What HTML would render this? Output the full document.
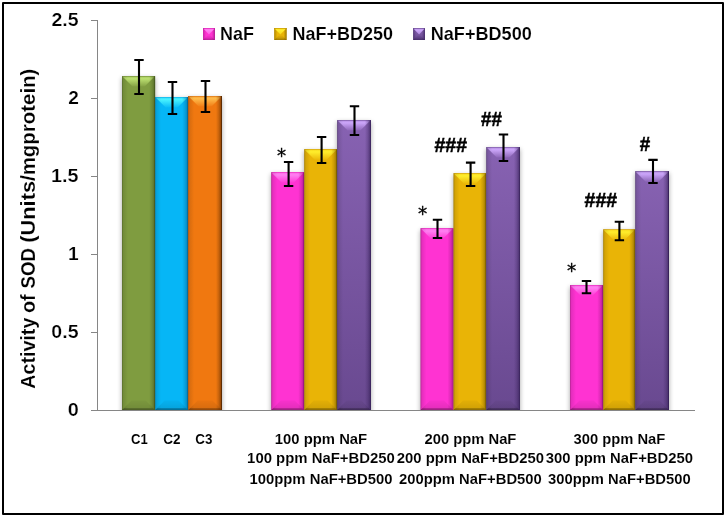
<!DOCTYPE html>
<html lang="en"><head><meta charset="utf-8"><title>Activity of SOD</title>
<style>html,body{margin:0;padding:0;background:#fff;}body{width:726px;height:517px;overflow:hidden;}svg{display:block;}text{font-family:"Liberation Sans",sans-serif;font-weight:bold;fill:#000;}</style></head><body>
<svg width="726" height="517" viewBox="0 0 726 517">
<defs>
<filter id="sh" x="-30%" y="-5%" width="160%" height="110%"><feGaussianBlur stdDeviation="2.4"/></filter>
<linearGradient id="tg" x1="0" y1="0" x2="0" y2="1"><stop offset="0" stop-color="#728E38"/><stop offset="0.1" stop-color="#ADCF64"/><stop offset="0.25" stop-color="#BCE070"/><stop offset="1" stop-color="#84A144"/></linearGradient>
<linearGradient id="lg" x1="0" y1="0" x2="1" y2="0"><stop offset="0" stop-color="#000" stop-opacity="0.30"/><stop offset="0.25" stop-color="#000" stop-opacity="0.10"/><stop offset="1" stop-color="#000" stop-opacity="0"/></linearGradient>
<linearGradient id="rg" x1="0" y1="0" x2="1" y2="0"><stop offset="0" stop-color="#4A5E22" stop-opacity="0"/><stop offset="0.5" stop-color="#4A5E22" stop-opacity="0.30"/><stop offset="0.82" stop-color="#4A5E22" stop-opacity="0.62"/><stop offset="0.9" stop-color="#4A5E22" stop-opacity="1"/><stop offset="1" stop-color="#4A5E22" stop-opacity="1"/></linearGradient>
<linearGradient id="bg" x1="0" y1="0" x2="0" y2="1"><stop offset="0" stop-color="#000" stop-opacity="0.03"/><stop offset="0.8" stop-color="#000" stop-opacity="0.10"/><stop offset="0.85" stop-color="#000" stop-opacity="0.34"/><stop offset="1" stop-color="#000" stop-opacity="0.40"/></linearGradient>
<linearGradient id="ltg" x1="0" y1="0" x2="0" y2="1"><stop offset="0" stop-color="#AACC62"/><stop offset="0.3" stop-color="#BCE070"/><stop offset="1" stop-color="#A4C55D"/></linearGradient>
<linearGradient id="llg" x1="0" y1="0" x2="1" y2="0"><stop offset="0" stop-color="#4A5E22" stop-opacity="0.55"/><stop offset="1" stop-color="#4A5E22" stop-opacity="0"/></linearGradient>
<linearGradient id="lrg" x1="0" y1="0" x2="1" y2="0"><stop offset="0" stop-color="#4A5E22" stop-opacity="0"/><stop offset="1" stop-color="#4A5E22" stop-opacity="0.75"/></linearGradient>
<linearGradient id="lbg" x1="0" y1="0" x2="0" y2="1"><stop offset="0" stop-color="#4A5E22" stop-opacity="0.05"/><stop offset="0.5" stop-color="#4A5E22" stop-opacity="0.25"/><stop offset="1" stop-color="#4A5E22" stop-opacity="0.7"/></linearGradient>
<linearGradient id="vg" x1="0" y1="0" x2="0" y2="1"><stop offset="0" stop-color="#7F9C40"/><stop offset="1" stop-color="#7F9C40"/></linearGradient>
<linearGradient id="tb" x1="0" y1="0" x2="0" y2="1"><stop offset="0" stop-color="#07A4E4"/><stop offset="0.1" stop-color="#38E3FD"/><stop offset="0.25" stop-color="#48F2FF"/><stop offset="1" stop-color="#0BBBF7"/></linearGradient>
<linearGradient id="lb" x1="0" y1="0" x2="1" y2="0"><stop offset="0" stop-color="#000" stop-opacity="0.30"/><stop offset="0.25" stop-color="#000" stop-opacity="0.10"/><stop offset="1" stop-color="#000" stop-opacity="0"/></linearGradient>
<linearGradient id="rb" x1="0" y1="0" x2="1" y2="0"><stop offset="0" stop-color="#066E9E" stop-opacity="0"/><stop offset="0.5" stop-color="#066E9E" stop-opacity="0.30"/><stop offset="0.82" stop-color="#066E9E" stop-opacity="0.62"/><stop offset="0.9" stop-color="#066E9E" stop-opacity="1"/><stop offset="1" stop-color="#066E9E" stop-opacity="1"/></linearGradient>
<linearGradient id="bb" x1="0" y1="0" x2="0" y2="1"><stop offset="0" stop-color="#000" stop-opacity="0.03"/><stop offset="0.8" stop-color="#000" stop-opacity="0.10"/><stop offset="0.85" stop-color="#000" stop-opacity="0.34"/><stop offset="1" stop-color="#000" stop-opacity="0.40"/></linearGradient>
<linearGradient id="ltb" x1="0" y1="0" x2="0" y2="1"><stop offset="0" stop-color="#34E0FC"/><stop offset="0.3" stop-color="#48F2FF"/><stop offset="1" stop-color="#2EDAFB"/></linearGradient>
<linearGradient id="llb" x1="0" y1="0" x2="1" y2="0"><stop offset="0" stop-color="#066E9E" stop-opacity="0.55"/><stop offset="1" stop-color="#066E9E" stop-opacity="0"/></linearGradient>
<linearGradient id="lrb" x1="0" y1="0" x2="1" y2="0"><stop offset="0" stop-color="#066E9E" stop-opacity="0"/><stop offset="1" stop-color="#066E9E" stop-opacity="0.75"/></linearGradient>
<linearGradient id="lbb" x1="0" y1="0" x2="0" y2="1"><stop offset="0" stop-color="#066E9E" stop-opacity="0.05"/><stop offset="0.5" stop-color="#066E9E" stop-opacity="0.25"/><stop offset="1" stop-color="#066E9E" stop-opacity="0.7"/></linearGradient>
<linearGradient id="vb" x1="0" y1="0" x2="0" y2="1"><stop offset="0" stop-color="#06B6F6"/><stop offset="1" stop-color="#06B6F6"/></linearGradient>
<linearGradient id="to" x1="0" y1="0" x2="0" y2="1"><stop offset="0" stop-color="#D4690C"/><stop offset="0.1" stop-color="#FBAB3D"/><stop offset="0.25" stop-color="#FFBC4C"/><stop offset="1" stop-color="#F17D15"/></linearGradient>
<linearGradient id="lo" x1="0" y1="0" x2="1" y2="0"><stop offset="0" stop-color="#000" stop-opacity="0.30"/><stop offset="0.25" stop-color="#000" stop-opacity="0.10"/><stop offset="1" stop-color="#000" stop-opacity="0"/></linearGradient>
<linearGradient id="ro" x1="0" y1="0" x2="1" y2="0"><stop offset="0" stop-color="#5E2C02" stop-opacity="0"/><stop offset="0.5" stop-color="#5E2C02" stop-opacity="0.30"/><stop offset="0.82" stop-color="#5E2C02" stop-opacity="0.62"/><stop offset="0.9" stop-color="#5E2C02" stop-opacity="1"/><stop offset="1" stop-color="#5E2C02" stop-opacity="1"/></linearGradient>
<linearGradient id="bo" x1="0" y1="0" x2="0" y2="1"><stop offset="0" stop-color="#000" stop-opacity="0.03"/><stop offset="0.8" stop-color="#000" stop-opacity="0.10"/><stop offset="0.85" stop-color="#000" stop-opacity="0.34"/><stop offset="1" stop-color="#000" stop-opacity="0.40"/></linearGradient>
<linearGradient id="lto" x1="0" y1="0" x2="0" y2="1"><stop offset="0" stop-color="#FAA83A"/><stop offset="0.3" stop-color="#FFBC4C"/><stop offset="1" stop-color="#F9A134"/></linearGradient>
<linearGradient id="llo" x1="0" y1="0" x2="1" y2="0"><stop offset="0" stop-color="#5E2C02" stop-opacity="0.55"/><stop offset="1" stop-color="#5E2C02" stop-opacity="0"/></linearGradient>
<linearGradient id="lro" x1="0" y1="0" x2="1" y2="0"><stop offset="0" stop-color="#5E2C02" stop-opacity="0"/><stop offset="1" stop-color="#5E2C02" stop-opacity="0.75"/></linearGradient>
<linearGradient id="lbo" x1="0" y1="0" x2="0" y2="1"><stop offset="0" stop-color="#5E2C02" stop-opacity="0.05"/><stop offset="0.5" stop-color="#5E2C02" stop-opacity="0.25"/><stop offset="1" stop-color="#5E2C02" stop-opacity="0.7"/></linearGradient>
<linearGradient id="vo" x1="0" y1="0" x2="0" y2="1"><stop offset="0" stop-color="#F07810"/><stop offset="1" stop-color="#F07810"/></linearGradient>
<linearGradient id="tm" x1="0" y1="0" x2="0" y2="1"><stop offset="0" stop-color="#E42ABC"/><stop offset="0.1" stop-color="#FF6DEA"/><stop offset="0.25" stop-color="#FF80F2"/><stop offset="1" stop-color="#FF39D5"/></linearGradient>
<linearGradient id="lm" x1="0" y1="0" x2="1" y2="0"><stop offset="0" stop-color="#000" stop-opacity="0.30"/><stop offset="0.25" stop-color="#000" stop-opacity="0.10"/><stop offset="1" stop-color="#000" stop-opacity="0"/></linearGradient>
<linearGradient id="rm" x1="0" y1="0" x2="1" y2="0"><stop offset="0" stop-color="#96167C" stop-opacity="0"/><stop offset="0.5" stop-color="#96167C" stop-opacity="0.30"/><stop offset="0.82" stop-color="#96167C" stop-opacity="0.62"/><stop offset="0.9" stop-color="#96167C" stop-opacity="1"/><stop offset="1" stop-color="#96167C" stop-opacity="1"/></linearGradient>
<linearGradient id="bm" x1="0" y1="0" x2="0" y2="1"><stop offset="0" stop-color="#000" stop-opacity="0.03"/><stop offset="0.8" stop-color="#000" stop-opacity="0.10"/><stop offset="0.85" stop-color="#000" stop-opacity="0.34"/><stop offset="1" stop-color="#000" stop-opacity="0.40"/></linearGradient>
<linearGradient id="ltm" x1="0" y1="0" x2="0" y2="1"><stop offset="0" stop-color="#FF69E8"/><stop offset="0.3" stop-color="#FF80F2"/><stop offset="1" stop-color="#FF61E5"/></linearGradient>
<linearGradient id="llm" x1="0" y1="0" x2="1" y2="0"><stop offset="0" stop-color="#96167C" stop-opacity="0.55"/><stop offset="1" stop-color="#96167C" stop-opacity="0"/></linearGradient>
<linearGradient id="lrm" x1="0" y1="0" x2="1" y2="0"><stop offset="0" stop-color="#96167C" stop-opacity="0"/><stop offset="1" stop-color="#96167C" stop-opacity="0.75"/></linearGradient>
<linearGradient id="lbm" x1="0" y1="0" x2="0" y2="1"><stop offset="0" stop-color="#96167C" stop-opacity="0.05"/><stop offset="0.5" stop-color="#96167C" stop-opacity="0.25"/><stop offset="1" stop-color="#96167C" stop-opacity="0.7"/></linearGradient>
<linearGradient id="vm" x1="0" y1="0" x2="0" y2="1"><stop offset="0" stop-color="#FF33D2"/><stop offset="1" stop-color="#FF33D2"/></linearGradient>
<linearGradient id="ty" x1="0" y1="0" x2="0" y2="1"><stop offset="0" stop-color="#D0A004"/><stop offset="0.1" stop-color="#FAE022"/><stop offset="0.25" stop-color="#FFEE2C"/><stop offset="1" stop-color="#EBB909"/></linearGradient>
<linearGradient id="ly" x1="0" y1="0" x2="1" y2="0"><stop offset="0" stop-color="#000" stop-opacity="0.30"/><stop offset="0.25" stop-color="#000" stop-opacity="0.10"/><stop offset="1" stop-color="#000" stop-opacity="0"/></linearGradient>
<linearGradient id="ry" x1="0" y1="0" x2="1" y2="0"><stop offset="0" stop-color="#7E6000" stop-opacity="0"/><stop offset="0.5" stop-color="#7E6000" stop-opacity="0.30"/><stop offset="0.82" stop-color="#7E6000" stop-opacity="0.62"/><stop offset="0.9" stop-color="#7E6000" stop-opacity="1"/><stop offset="1" stop-color="#7E6000" stop-opacity="1"/></linearGradient>
<linearGradient id="by" x1="0" y1="0" x2="0" y2="1"><stop offset="0" stop-color="#000" stop-opacity="0.03"/><stop offset="0.8" stop-color="#000" stop-opacity="0.10"/><stop offset="0.85" stop-color="#000" stop-opacity="0.34"/><stop offset="1" stop-color="#000" stop-opacity="0.40"/></linearGradient>
<linearGradient id="lty" x1="0" y1="0" x2="0" y2="1"><stop offset="0" stop-color="#F8DD21"/><stop offset="0.3" stop-color="#FFEE2C"/><stop offset="1" stop-color="#F6D71D"/></linearGradient>
<linearGradient id="lly" x1="0" y1="0" x2="1" y2="0"><stop offset="0" stop-color="#7E6000" stop-opacity="0.55"/><stop offset="1" stop-color="#7E6000" stop-opacity="0"/></linearGradient>
<linearGradient id="lry" x1="0" y1="0" x2="1" y2="0"><stop offset="0" stop-color="#7E6000" stop-opacity="0"/><stop offset="1" stop-color="#7E6000" stop-opacity="0.75"/></linearGradient>
<linearGradient id="lby" x1="0" y1="0" x2="0" y2="1"><stop offset="0" stop-color="#7E6000" stop-opacity="0.05"/><stop offset="0.5" stop-color="#7E6000" stop-opacity="0.25"/><stop offset="1" stop-color="#7E6000" stop-opacity="0.7"/></linearGradient>
<linearGradient id="vy" x1="0" y1="0" x2="0" y2="1"><stop offset="0" stop-color="#E9B406"/><stop offset="1" stop-color="#E9B406"/></linearGradient>
<linearGradient id="tp" x1="0" y1="0" x2="0" y2="1"><stop offset="0" stop-color="#76549F"/><stop offset="0.1" stop-color="#BB95E8"/><stop offset="0.25" stop-color="#CCA6FA"/><stop offset="1" stop-color="#8D67B8"/></linearGradient>
<linearGradient id="lp" x1="0" y1="0" x2="1" y2="0"><stop offset="0" stop-color="#000" stop-opacity="0.30"/><stop offset="0.25" stop-color="#000" stop-opacity="0.10"/><stop offset="1" stop-color="#000" stop-opacity="0"/></linearGradient>
<linearGradient id="rp" x1="0" y1="0" x2="1" y2="0"><stop offset="0" stop-color="#38225A" stop-opacity="0"/><stop offset="0.5" stop-color="#38225A" stop-opacity="0.30"/><stop offset="0.82" stop-color="#38225A" stop-opacity="0.62"/><stop offset="0.9" stop-color="#38225A" stop-opacity="1"/><stop offset="1" stop-color="#38225A" stop-opacity="1"/></linearGradient>
<linearGradient id="bp" x1="0" y1="0" x2="0" y2="1"><stop offset="0" stop-color="#000" stop-opacity="0.03"/><stop offset="0.8" stop-color="#000" stop-opacity="0.10"/><stop offset="0.85" stop-color="#000" stop-opacity="0.34"/><stop offset="1" stop-color="#000" stop-opacity="0.40"/></linearGradient>
<linearGradient id="ltp" x1="0" y1="0" x2="0" y2="1"><stop offset="0" stop-color="#B792E4"/><stop offset="0.3" stop-color="#CCA6FA"/><stop offset="1" stop-color="#B08BDD"/></linearGradient>
<linearGradient id="llp" x1="0" y1="0" x2="1" y2="0"><stop offset="0" stop-color="#38225A" stop-opacity="0.55"/><stop offset="1" stop-color="#38225A" stop-opacity="0"/></linearGradient>
<linearGradient id="lrp" x1="0" y1="0" x2="1" y2="0"><stop offset="0" stop-color="#38225A" stop-opacity="0"/><stop offset="1" stop-color="#38225A" stop-opacity="0.75"/></linearGradient>
<linearGradient id="lbp" x1="0" y1="0" x2="0" y2="1"><stop offset="0" stop-color="#38225A" stop-opacity="0.05"/><stop offset="0.5" stop-color="#38225A" stop-opacity="0.25"/><stop offset="1" stop-color="#38225A" stop-opacity="0.7"/></linearGradient>
<linearGradient id="vp" x1="0" y1="0" x2="0" y2="1"><stop offset="0" stop-color="#8762B2"/><stop offset="1" stop-color="#694990"/></linearGradient>
</defs>
<rect x="0" y="0" width="726" height="517" fill="#fff"/>
<rect x="3" y="3" width="720" height="511" fill="#fff" stroke="#000" stroke-width="2" stroke-linejoin="round"/>
<clipPath id="pc"><rect x="0" y="0" width="726" height="410"/></clipPath>
<g clip-path="url(#pc)"><g filter="url(#sh)" fill="#000" opacity="0.36">
<rect x="122.0" y="78.1" width="33.1" height="341.9"/>
<rect x="155.1" y="99.0" width="33.0" height="321.0"/>
<rect x="188.1" y="98.0" width="33.9" height="322.0"/>
<rect x="271.2" y="174.2" width="33.0" height="245.8"/>
<rect x="304.2" y="151.2" width="32.9" height="268.8"/>
<rect x="337.1" y="122.1" width="33.8" height="297.9"/>
<rect x="420.5" y="230.3" width="33.0" height="189.7"/>
<rect x="453.5" y="175.2" width="32.7" height="244.8"/>
<rect x="486.2" y="149.1" width="33.7" height="270.9"/>
<rect x="570.0" y="287.1" width="33.2" height="132.9"/>
<rect x="603.2" y="231.4" width="32.0" height="188.6"/>
<rect x="635.2" y="173.2" width="33.8" height="246.8"/>
</g></g>
<g>
<rect x="122.0" y="76.1" width="33.1" height="333.9" fill="url(#vg)"/>
<polygon points="122.0,76.1 155.1,76.1 144.6,86.6 132.5,86.6" fill="url(#tg)"/>
<polygon points="131.5,400.5 145.6,400.5 155.1,410.0 122.0,410.0" fill="url(#bg)"/>
<rect x="122.0" y="76.1" width="6" height="333.9" fill="url(#lg)"/>
<rect x="149.1" y="76.1" width="6" height="333.9" fill="url(#rg)"/>
</g>
<g>
<rect x="155.1" y="97.0" width="33.0" height="313.0" fill="url(#vb)"/>
<polygon points="155.1,97.0 188.1,97.0 177.6,107.5 165.6,107.5" fill="url(#tb)"/>
<polygon points="164.6,400.5 178.6,400.5 188.1,410.0 155.1,410.0" fill="url(#bb)"/>
<rect x="155.1" y="97.0" width="6" height="313.0" fill="url(#lb)"/>
<rect x="182.1" y="97.0" width="6" height="313.0" fill="url(#rb)"/>
</g>
<g>
<rect x="188.1" y="96.0" width="33.9" height="314.0" fill="url(#vo)"/>
<polygon points="188.1,96.0 222.0,96.0 211.5,106.5 198.6,106.5" fill="url(#to)"/>
<polygon points="197.6,400.5 212.5,400.5 222.0,410.0 188.1,410.0" fill="url(#bo)"/>
<rect x="188.1" y="96.0" width="6" height="314.0" fill="url(#lo)"/>
<rect x="216.0" y="96.0" width="6" height="314.0" fill="url(#ro)"/>
</g>
<g>
<rect x="271.2" y="172.2" width="33.0" height="237.8" fill="url(#vm)"/>
<polygon points="271.2,172.2 304.2,172.2 293.7,182.7 281.7,182.7" fill="url(#tm)"/>
<polygon points="280.7,400.5 294.7,400.5 304.2,410.0 271.2,410.0" fill="url(#bm)"/>
<rect x="271.2" y="172.2" width="6" height="237.8" fill="url(#lm)"/>
<rect x="298.2" y="172.2" width="6" height="237.8" fill="url(#rm)"/>
</g>
<g>
<rect x="304.2" y="149.2" width="32.9" height="260.8" fill="url(#vy)"/>
<polygon points="304.2,149.2 337.1,149.2 326.6,159.7 314.7,159.7" fill="url(#ty)"/>
<polygon points="313.7,400.5 327.6,400.5 337.1,410.0 304.2,410.0" fill="url(#by)"/>
<rect x="304.2" y="149.2" width="6" height="260.8" fill="url(#ly)"/>
<rect x="331.1" y="149.2" width="6" height="260.8" fill="url(#ry)"/>
</g>
<g>
<rect x="337.1" y="120.1" width="33.8" height="289.9" fill="url(#vp)"/>
<polygon points="337.1,120.1 370.9,120.1 360.4,130.6 347.6,130.6" fill="url(#tp)"/>
<polygon points="346.6,400.5 361.4,400.5 370.9,410.0 337.1,410.0" fill="url(#bp)"/>
<rect x="337.1" y="120.1" width="6" height="289.9" fill="url(#lp)"/>
<rect x="364.9" y="120.1" width="6" height="289.9" fill="url(#rp)"/>
</g>
<g>
<rect x="420.5" y="228.3" width="33.0" height="181.7" fill="url(#vm)"/>
<polygon points="420.5,228.3 453.5,228.3 443.0,238.8 431.0,238.8" fill="url(#tm)"/>
<polygon points="430.0,400.5 444.0,400.5 453.5,410.0 420.5,410.0" fill="url(#bm)"/>
<rect x="420.5" y="228.3" width="6" height="181.7" fill="url(#lm)"/>
<rect x="447.5" y="228.3" width="6" height="181.7" fill="url(#rm)"/>
</g>
<g>
<rect x="453.5" y="173.2" width="32.7" height="236.8" fill="url(#vy)"/>
<polygon points="453.5,173.2 486.2,173.2 475.7,183.7 464.0,183.7" fill="url(#ty)"/>
<polygon points="463.0,400.5 476.7,400.5 486.2,410.0 453.5,410.0" fill="url(#by)"/>
<rect x="453.5" y="173.2" width="6" height="236.8" fill="url(#ly)"/>
<rect x="480.2" y="173.2" width="6" height="236.8" fill="url(#ry)"/>
</g>
<g>
<rect x="486.2" y="147.1" width="33.7" height="262.9" fill="url(#vp)"/>
<polygon points="486.2,147.1 519.9,147.1 509.4,157.6 496.7,157.6" fill="url(#tp)"/>
<polygon points="495.7,400.5 510.4,400.5 519.9,410.0 486.2,410.0" fill="url(#bp)"/>
<rect x="486.2" y="147.1" width="6" height="262.9" fill="url(#lp)"/>
<rect x="513.9" y="147.1" width="6" height="262.9" fill="url(#rp)"/>
</g>
<g>
<rect x="570.0" y="285.1" width="33.2" height="124.9" fill="url(#vm)"/>
<polygon points="570.0,285.1 603.2,285.1 592.7,295.6 580.5,295.6" fill="url(#tm)"/>
<polygon points="579.5,400.5 593.7,400.5 603.2,410.0 570.0,410.0" fill="url(#bm)"/>
<rect x="570.0" y="285.1" width="6" height="124.9" fill="url(#lm)"/>
<rect x="597.2" y="285.1" width="6" height="124.9" fill="url(#rm)"/>
</g>
<g>
<rect x="603.2" y="229.4" width="32.0" height="180.6" fill="url(#vy)"/>
<polygon points="603.2,229.4 635.2,229.4 624.7,239.9 613.7,239.9" fill="url(#ty)"/>
<polygon points="612.7,400.5 625.7,400.5 635.2,410.0 603.2,410.0" fill="url(#by)"/>
<rect x="603.2" y="229.4" width="6" height="180.6" fill="url(#ly)"/>
<rect x="629.2" y="229.4" width="6" height="180.6" fill="url(#ry)"/>
</g>
<g>
<rect x="635.2" y="171.2" width="33.8" height="238.8" fill="url(#vp)"/>
<polygon points="635.2,171.2 669.0,171.2 658.5,181.7 645.7,181.7" fill="url(#tp)"/>
<polygon points="644.7,400.5 659.5,400.5 669.0,410.0 635.2,410.0" fill="url(#bp)"/>
<rect x="635.2" y="171.2" width="6" height="238.8" fill="url(#lp)"/>
<rect x="663.0" y="171.2" width="6" height="238.8" fill="url(#rp)"/>
</g>
<g stroke="#868686" stroke-width="1" fill="none" shape-rendering="crispEdges">
<line x1="97.5" y1="20" x2="97.5" y2="410.5"/>
<line x1="91" y1="410.5" x2="695" y2="410.5"/>
<line x1="91" y1="410.5" x2="98" y2="410.5"/>
<line x1="91" y1="332.5" x2="98" y2="332.5"/>
<line x1="91" y1="254.5" x2="98" y2="254.5"/>
<line x1="91" y1="176.5" x2="98" y2="176.5"/>
<line x1="91" y1="98.5" x2="98" y2="98.5"/>
<line x1="91" y1="20.5" x2="98" y2="20.5"/>
</g>
<g stroke="#000" stroke-width="2.1" fill="none">
<path d="M139.0 60.0V94.0M134.3 60.0H143.7M134.3 94.0H143.7"/>
<path d="M172.5 82.0V114.0M167.8 82.0H177.2M167.8 114.0H177.2"/>
<path d="M205.5 81.0V112.0M200.8 81.0H210.2M200.8 112.0H210.2"/>
<path d="M288.6 162.0V186.0M283.9 162.0H293.3M283.9 186.0H293.3"/>
<path d="M321.6 137.0V163.0M316.9 137.0H326.3M316.9 163.0H326.3"/>
<path d="M354.5 106.2V135.0M349.8 106.2H359.2M349.8 135.0H359.2"/>
<path d="M437.5 219.8V238.0M432.8 219.8H442.2M432.8 238.0H442.2"/>
<path d="M470.6 162.6V186.0M465.9 162.6H475.3M465.9 186.0H475.3"/>
<path d="M503.5 134.5V161.0M498.8 134.5H508.2M498.8 161.0H508.2"/>
<path d="M586.5 281.0V293.2M581.8 281.0H591.2M581.8 293.2H591.2"/>
<path d="M619.4 221.7V240.2M614.7 221.7H624.1M614.7 240.2H624.1"/>
<path d="M653.0 159.9V183.0M648.3 159.9H657.7M648.3 183.0H657.7"/>
</g>
<text x="51.49" y="25.8" font-size="18" textLength="27.07" lengthAdjust="spacingAndGlyphs" stroke="#fff" stroke-width="0.22">2.5</text>
<text x="68.21" y="103.8" font-size="18" textLength="10.6" lengthAdjust="spacingAndGlyphs" stroke="#fff" stroke-width="0.22">2</text>
<text x="51.09" y="181.8" font-size="18" textLength="27.48" lengthAdjust="spacingAndGlyphs" stroke="#fff" stroke-width="0.22">1.5</text>
<text x="67.93" y="259.8" font-size="18" textLength="10.64" lengthAdjust="spacingAndGlyphs" stroke="#fff" stroke-width="0.22">1</text>
<text x="51.39" y="337.8" font-size="18" textLength="27.17" lengthAdjust="spacingAndGlyphs" stroke="#fff" stroke-width="0.22">0.5</text>
<text x="67.78" y="415.8" font-size="18" textLength="11.06" lengthAdjust="spacingAndGlyphs" stroke="#fff" stroke-width="0.22">0</text>
<rect x="203.0" y="28" width="12.0" height="12" fill="url(#vm)"/>
<polygon points="207.5,35.5 210.5,35.5 215.0,40 203.0,40" fill="url(#lbm)"/>
<rect x="203.0" y="28" width="3" height="12" fill="url(#llm)"/>
<rect x="212.0" y="28" width="3" height="12" fill="url(#lrm)"/>
<polygon points="203.4,28.4 214.6,28.4 209.0,34.4" fill="url(#ltm)"/>
<rect x="203.0" y="28" width="12.0" height="0.7" fill="#C822A6" opacity="0.6"/>
<rect x="274.2" y="28" width="12.4" height="12" fill="url(#vy)"/>
<polygon points="278.7,35.5 282.1,35.5 286.6,40 274.2,40" fill="url(#lby)"/>
<rect x="274.2" y="28" width="3" height="12" fill="url(#lly)"/>
<rect x="283.6" y="28" width="3" height="12" fill="url(#lry)"/>
<polygon points="274.6,28.4 286.2,28.4 280.4,34.4" fill="url(#lty)"/>
<rect x="274.2" y="28" width="12.4" height="0.7" fill="#B88C02" opacity="0.6"/>
<rect x="413.1" y="28" width="11.9" height="12" fill="url(#vp)"/>
<polygon points="417.6,35.5 420.5,35.5 425.0,40 413.1,40" fill="url(#lbp)"/>
<rect x="413.1" y="28" width="3" height="12" fill="url(#llp)"/>
<rect x="422.0" y="28" width="3" height="12" fill="url(#lrp)"/>
<polygon points="413.5,28.4 424.6,28.4 419.1,34.4" fill="url(#ltp)"/>
<rect x="413.1" y="28" width="11.9" height="0.7" fill="#66478C" opacity="0.6"/>
<text x="219.98" y="39.6" font-size="18" textLength="33.93" lengthAdjust="spacingAndGlyphs" stroke="#fff" stroke-width="0.15">NaF</text>
<text x="292.58" y="39.6" font-size="18" textLength="100.36" lengthAdjust="spacingAndGlyphs" stroke="#fff" stroke-width="0.15">NaF+BD250</text>
<text x="430.67" y="39.6" font-size="18" textLength="101.18" lengthAdjust="spacingAndGlyphs" stroke="#fff" stroke-width="0.15">NaF+BD500</text>
<text transform="translate(35.1,0) rotate(-90)" y="0" font-size="19.8" stroke="#fff" stroke-width="0.15"><tspan x="-388.84" textLength="71.24" lengthAdjust="spacingAndGlyphs">Activity</tspan> <tspan x="-313.1" textLength="18.83" lengthAdjust="spacingAndGlyphs">of</tspan> <tspan x="-288.46" textLength="40.35" lengthAdjust="spacingAndGlyphs">SOD</tspan> <tspan x="-242.79" textLength="67.92" lengthAdjust="spacingAndGlyphs">(Units/</tspan><tspan x="-175.38" textLength="106.79" lengthAdjust="spacingAndGlyphs">mgprotein)</tspan></text>
<text x="131.05" y="443.6" font-size="14" textLength="16.71" lengthAdjust="spacingAndGlyphs" stroke="#fff" stroke-width="0.08">C1</text>
<text x="163.23" y="443.6" font-size="14" textLength="17.31" lengthAdjust="spacingAndGlyphs" stroke="#fff" stroke-width="0.08">C2</text>
<text x="195.24" y="443.6" font-size="14" textLength="17.14" lengthAdjust="spacingAndGlyphs" stroke="#fff" stroke-width="0.08">C3</text>
<text x="274.85" y="443.6" font-size="14" textLength="92.33" lengthAdjust="spacingAndGlyphs" stroke="#fff" stroke-width="0.08">100 ppm NaF</text>
<text x="247.14" y="463.4" font-size="14" textLength="147.76" lengthAdjust="spacingAndGlyphs" stroke="#fff" stroke-width="0.08">100 ppm NaF+BD250</text>
<text x="249.45" y="484.0" font-size="14" textLength="143.15" lengthAdjust="spacingAndGlyphs" stroke="#fff" stroke-width="0.08">100ppm NaF+BD500</text>
<text x="424.49" y="443.6" font-size="14" textLength="91.88" lengthAdjust="spacingAndGlyphs" stroke="#fff" stroke-width="0.08">200 ppm NaF</text>
<text x="396.79" y="463.4" font-size="14" textLength="147.31" lengthAdjust="spacingAndGlyphs" stroke="#fff" stroke-width="0.08">200 ppm NaF+BD250</text>
<text x="399.09" y="484.0" font-size="14" textLength="142.7" lengthAdjust="spacingAndGlyphs" stroke="#fff" stroke-width="0.08">200ppm NaF+BD500</text>
<text x="573.54" y="443.6" font-size="14" textLength="91.73" lengthAdjust="spacingAndGlyphs" stroke="#fff" stroke-width="0.08">300 ppm NaF</text>
<text x="545.84" y="463.4" font-size="14" textLength="147.16" lengthAdjust="spacingAndGlyphs" stroke="#fff" stroke-width="0.08">300 ppm NaF+BD250</text>
<text x="548.14" y="484.0" font-size="14" textLength="142.55" lengthAdjust="spacingAndGlyphs" stroke="#fff" stroke-width="0.08">300ppm NaF+BD500</text>
<text x="277.1" y="162.3" font-size="19.7" textLength="9.1" lengthAdjust="spacingAndGlyphs" stroke="#000" stroke-width="0.35" style="font-family:'DejaVu Sans',sans-serif;font-weight:normal">*</text>
<text x="418.09" y="220.3" font-size="19.7" textLength="9.21" lengthAdjust="spacingAndGlyphs" stroke="#000" stroke-width="0.35" style="font-family:'DejaVu Sans',sans-serif;font-weight:normal">*</text>
<text x="566.99" y="277.3" font-size="19.7" textLength="9.21" lengthAdjust="spacingAndGlyphs" stroke="#000" stroke-width="0.35" style="font-family:'DejaVu Sans',sans-serif;font-weight:normal">*</text>
<text x="434.51" y="151.7" font-size="21" textLength="32.45" lengthAdjust="spacingAndGlyphs" stroke="#000" stroke-width="0.55">###</text>
<text x="481.02" y="125.5" font-size="21" textLength="20.86" lengthAdjust="spacingAndGlyphs" stroke="#000" stroke-width="0.55">##</text>
<text x="584.61" y="207.4" font-size="21" textLength="32.45" lengthAdjust="spacingAndGlyphs" stroke="#000" stroke-width="0.55">###</text>
<text x="639.72" y="150.8" font-size="21" textLength="10.44" lengthAdjust="spacingAndGlyphs" stroke="#000" stroke-width="0.55">#</text>
</svg></body></html>
